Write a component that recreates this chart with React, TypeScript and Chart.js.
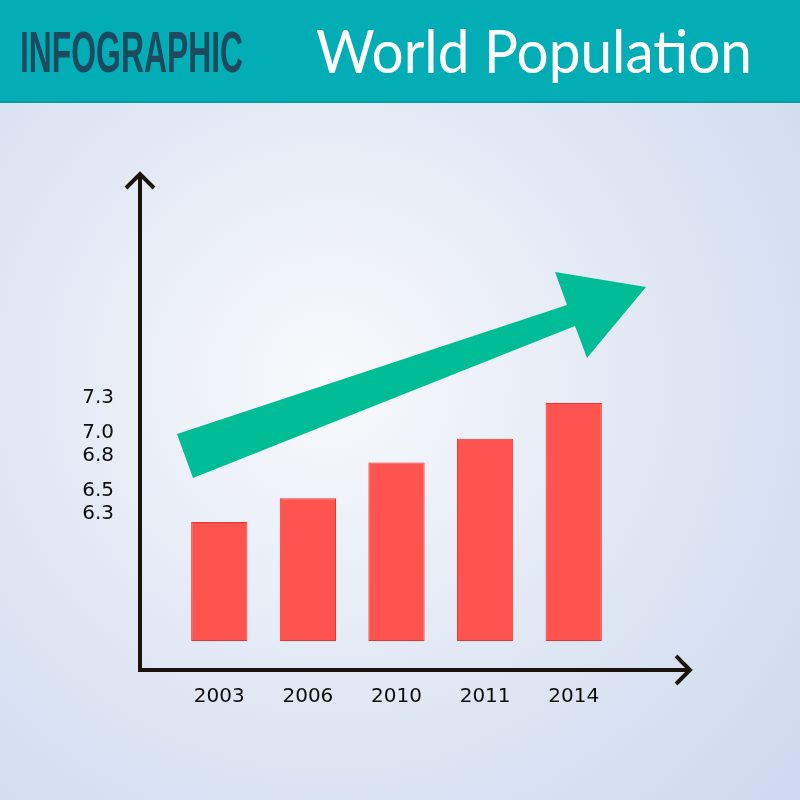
import React, { useEffect, useRef } from "react";
import { Chart, registerables } from "chart.js";

Chart.register(...registerables);

const years = ["2003", "2006", "2010", "2011", "2014"];
const population = [6.3, 6.5, 6.8, 7.0, 7.3];
const tickValues = [6.3, 6.5, 6.8, 7.0, 7.3];
const barBase = 5.3;
const headerLeft = "INFOGRAPHIC";
const headerTitle = "World Population";

export default function App() {
  const ref = useRef<HTMLCanvasElement>(null);

  useEffect(() => {
    const canvas = ref.current;
    if (!canvas) return;

    const backdrop = {
      id: "backdrop",
      beforeDraw(chart: any) {
        const { ctx, width, height } = chart;
        ctx.save();
        const g = ctx.createRadialGradient(330, 380, 0, 330, 380, 640);
        g.addColorStop(0, "#f8f9fc");
        g.addColorStop(0.55, "#dfe6f3");
        g.addColorStop(1, "#cbd9ef");
        ctx.fillStyle = g;
        ctx.fillRect(0, 0, width, height);
        // header band
        ctx.fillStyle = "#02adb5";
        ctx.fillRect(0, 0, width, 102);
        ctx.fillStyle = "#079ba3";
        ctx.fillRect(0, 101, width, 2);
        // header texts
        ctx.textBaseline = "alphabetic";
        ctx.textAlign = "left";
        ctx.font = "bold 58px 'Liberation Sans', 'DejaVu Sans', sans-serif";
        ctx.fillStyle = "#1c4b60";
        let w = ctx.measureText(headerLeft).width;
        ctx.save();
        ctx.translate(20, 72);
        ctx.scale(223 / w, 1);
        ctx.fillText(headerLeft, 0, 0);
        ctx.restore();
        ctx.font = "60px Lato";
        ctx.fillStyle = "#ffffff";
        w = ctx.measureText(headerTitle).width;
        ctx.save();
        ctx.translate(316, 73);
        ctx.scale(436 / w, 1);
        ctx.fillText(headerTitle, 0, 0);
        ctx.restore();
        ctx.restore();
      },
    };

    const decorations = {
      id: "decorations",
      afterDraw(chart: any) {
        const { ctx, chartArea } = chart;
        const L = chartArea.left;
        const B = chartArea.bottom;
        ctx.save();
        // green trend arrow
        const pts = [
          [2, -207],
          [392, -336],
          [380, -369],
          [471, -354],
          [412, -283],
          [400, -315],
          [18, -163],
        ];
        ctx.fillStyle = "#00bd98";
        ctx.beginPath();
        pts.forEach(([dx, dy], i) => {
          if (i === 0) ctx.moveTo(L + dx, B + dy);
          else ctx.lineTo(L + dx, B + dy);
        });
        ctx.closePath();
        ctx.fill();

        // axes with arrowheads
        const ax = L - 35;
        const ay = B + 29;
        ctx.strokeStyle = "#1a140c";
        ctx.lineWidth = 4;
        ctx.lineJoin = "miter";
        ctx.lineCap = "butt";
        ctx.beginPath();
        ctx.moveTo(ax, ay + 2);
        ctx.lineTo(ax, 176);
        ctx.stroke();
        ctx.beginPath();
        ctx.moveTo(ax - 14, 188);
        ctx.lineTo(ax, 174);
        ctx.lineTo(ax + 14, 188);
        ctx.stroke();
        ctx.beginPath();
        ctx.moveTo(ax - 2, ay);
        ctx.lineTo(688, ay);
        ctx.stroke();
        ctx.beginPath();
        ctx.moveTo(676, ay - 14);
        ctx.lineTo(690, ay);
        ctx.lineTo(676, ay + 14);
        ctx.stroke();
        ctx.restore();
      },
    };

    const chart = new Chart(canvas, {
      type: "bar",
      data: {
        labels: years,
        datasets: [
          {
            label: "World population (billions)",
            data: population,
            base: barBase,
            backgroundColor: "#ff5350",
            borderColor: "#f2302c",
            borderWidth: 1,
            borderSkipped: false,
            barPercentage: 0.635,
            categoryPercentage: 1,
            yAxisID: "y",
          } as any,
        ],
      },
      options: {
        animation: false,
        responsive: false,
        devicePixelRatio: 1,
        layout: { padding: { left: 0, right: 182, top: 160, bottom: 79 } },
        plugins: { legend: { display: false }, tooltip: { enabled: false } },
        scales: {
          x: {
            type: "category",
            grid: { display: false, drawTicks: false },
            border: { display: false },
            ticks: {
              padding: 44,
              maxRotation: 0,
              autoSkip: false,
              color: "#0d0d0d",
              font: { family: "'DejaVu Sans'", size: 20 },
            },
            afterFit: (s: any) => {
              s.height = 80;
            },
          },
          y: {
            display: false,
            min: 5.3,
            max: 9.342,
          },
          yl: {
            position: "left",
            min: 5.205,
            max: 9.352,
            grid: { display: false, drawTicks: false },
            border: { display: false },
            afterBuildTicks: (s: any) => {
              s.ticks = tickValues.map((v) => ({ value: v }));
            },
            ticks: {
              padding: 61,
              color: "#0d0d0d",
              font: { family: "'DejaVu Sans'", size: 20 },
              callback: (v: any) => Number(v).toFixed(1),
            },
            afterFit: (s: any) => {
              s.width = 175;
            },
          },
        },
      } as any,
      plugins: [backdrop, decorations],
    });

    return () => chart.destroy();
  }, []);

  return (
    <div style={{ position: "absolute", left: 0, top: 0, width: 800, height: 800 }}>
      <canvas ref={ref} width={800} height={800} />
    </div>
  );
}
